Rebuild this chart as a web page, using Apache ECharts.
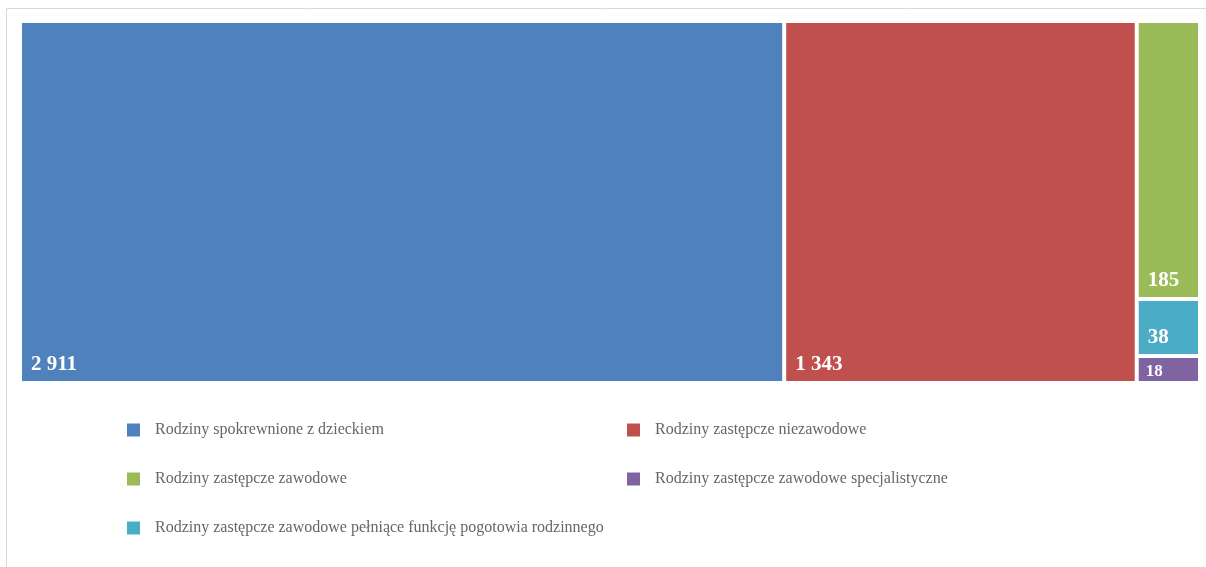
<!DOCTYPE html>
<html>
<head>
<meta charset="utf-8">
<script src="https://cdn.jsdelivr.net/npm/echarts@6/dist/echarts.min.js"></script>
<style>
html,body{margin:0;padding:0;background:#fff;}
#chart{width:1206px;height:567px;}
</style>
</head>
<body>
<div id="chart"></div>
<script>
const categories = [
  'Rodziny spokrewnione z dzieckiem',
  'Rodziny zastępcze niezawodowe',
  'Rodziny zastępcze zawodowe',
  'Rodziny zastępcze zawodowe pełniące funkcję pogotowia rodzinnego',
  'Rodziny zastępcze zawodowe specjalistyczne'
];
const values = [2911, 1343, 185, 38, 18];
const colors = ['#4F81BD', '#C0504D', '#9BBB59', '#4BACC6', '#8064A2'];

const legendCol1 = [categories[0], categories[2], categories[3]];
const legendCol2 = [categories[1], categories[4]];

function fmt(v) {
  return String(v).replace(/\B(?=(\d{3})+(?!\d))/g, ' ');
}

const chart = echarts.init(document.getElementById('chart'));

const treeData = categories.map((c, i) => ({
  name: c,
  value: values[i],
  itemStyle: { color: colors[i] },
  label: values[i] < 30 ? { fontSize: 17, lineHeight: 12, distance: 2, offset: [0, 4] } : undefined
}));

const legendSeries = categories.map((c, i) => ({
  type: 'custom',
  name: c,
  coordinateSystem: 'none',
  itemStyle: { color: colors[i] },
  renderItem: function () { return null; },
  data: []
}));

const legendText = {
  fontFamily: 'Liberation Serif',
  fontSize: 16,
  color: '#666666',
  padding: [0, 0, 0, 10]
};

function legendAt(data, left) {
  return {
    data: data,
    orient: 'vertical',
    left: left,
    top: 422,
    padding: 0,
    itemWidth: 13,
    itemHeight: 13,
    itemGap: 33,
    icon: 'rect',
    textStyle: legendText,
    selectedMode: false
  };
}

chart.setOption({
  animation: false,
  graphic: [{
    type: 'rect',
    shape: { x: 6.5, y: 8.5, width: 1300, height: 700 },
    style: { fill: 'none', stroke: '#d9d9d9', lineWidth: 1 },
    silent: true,
    z: -10
  }],
  legend: [legendAt(legendCol1, 127), legendAt(legendCol2, 627)],
  series: [{
    type: 'treemap',
    left: 22,
    top: 23,
    right: 8,
    bottom: 186,
    roam: false,
    nodeClick: false,
    breadcrumb: { show: false },
    squareRatio: 0.5 * (1 + Math.sqrt(5)),
    levels: [{
      itemStyle: { borderWidth: 0, gapWidth: 4 }
    }],
    label: {
      show: true,
      position: 'insideBottomLeft',
      distance: 4,
      formatter: function (p) { return fmt(p.value); },
      fontFamily: 'Liberation Serif',
      fontWeight: 'bold',
      fontSize: 21,
      lineHeight: 14,
      overflow: 'none',
      lineOverflow: 'none',
      color: '#ffffff'
    },
    upperLabel: { show: false },
    emphasis: { disabled: true },
    data: treeData
  }].concat(legendSeries)
});
</script>
</body>
</html>
